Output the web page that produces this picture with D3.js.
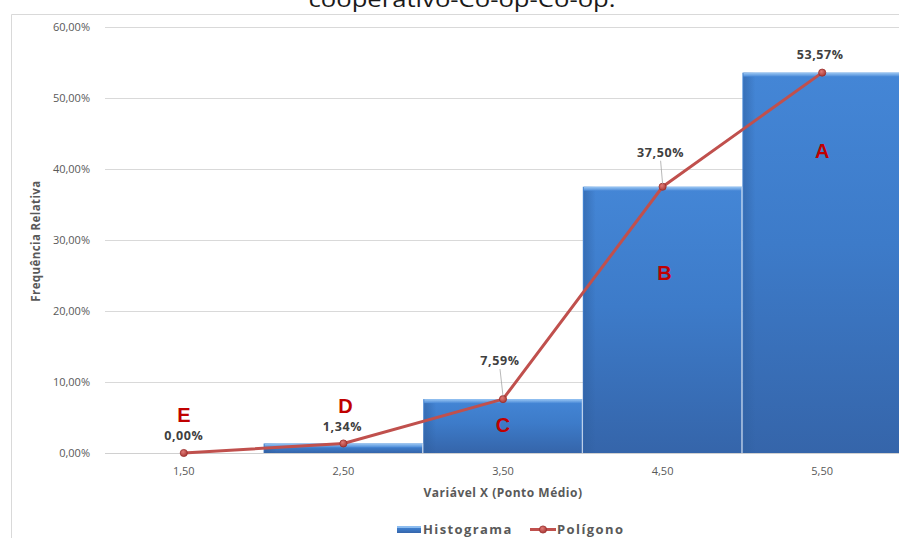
<!DOCTYPE html>
<html>
<head>
<meta charset="utf-8">
<script src="https://cdn.jsdelivr.net/npm/d3@7/dist/d3.min.js"></script>
<style>
  html, body { margin: 0; padding: 0; background: #ffffff; }
  svg { display: block; }
</style>
</head>
<body>
<svg id="chart" width="899" height="538"></svg>
<script>
// Class midpoints (x) and relative frequencies (y)
const categories = ["1,50", "2,50", "3,50", "4,50", "5,50"];
const frequencies = [0.0000, 0.0134, 0.0759, 0.3750, 0.5357];
const valueLabels = ["0,00%", "1,34%", "7,59%", "37,50%", "53,57%"];
const pointLetters = ["E", "D", "C", "B", "A"];
const yTicks = [0, 0.1, 0.2, 0.3, 0.4, 0.5, 0.6];
const yTickLabels = ["0,00%", "10,00%", "20,00%", "30,00%", "40,00%", "50,00%", "60,00%"];
const titleText = "cooperativo-Co-op-Co-op.";
const xTitle = "Variável X (Ponto Médio)";
const yTitle = "Frequência Relativa";
const seriesNames = ["Histograma", "Polígono"];

const svg = d3.select("#chart");
const W = 899, H = 538;
const plot = { left: 104, right: 902, top: 27, bottom: 453 };

const x = d3.scaleBand().domain(categories).range([plot.left, plot.right]).padding(0);
const y = d3.scaleLinear().domain([0, 0.6]).range([plot.bottom, plot.top]);

const font = "'Open Sans', 'Noto Sans', sans-serif";
const lineColor = "#c0504d";

// ---- gradients for the bevelled histogram bars ----
const defs = svg.append("defs");
const gBody = defs.append("linearGradient").attr("id", "barBody")
  .attr("x1", 0).attr("y1", 0).attr("x2", 0).attr("y2", 1);
gBody.append("stop").attr("offset", "0%").attr("stop-color", "#4486d6");
gBody.append("stop").attr("offset", "45%").attr("stop-color", "#3d7bc9");
gBody.append("stop").attr("offset", "100%").attr("stop-color", "#3565aa");

const gTop = defs.append("linearGradient").attr("id", "barTop")
  .attr("x1", 0).attr("y1", 0).attr("x2", 0).attr("y2", 1);
gTop.append("stop").attr("offset", "0%").attr("stop-color", "#9cc8f4");
gTop.append("stop").attr("offset", "100%").attr("stop-color", "#4a8ad8");

const gSide = defs.append("linearGradient").attr("id", "barSide")
  .attr("x1", 0).attr("y1", 0).attr("x2", 1).attr("y2", 0);
gSide.append("stop").attr("offset", "0%").attr("stop-color", "#2f5f9f").attr("stop-opacity", 0.55);
gSide.append("stop").attr("offset", "100%").attr("stop-color", "#2f5f9f").attr("stop-opacity", 0);

const gMarker = defs.append("radialGradient").attr("id", "markerFill")
  .attr("cx", "40%").attr("cy", "35%").attr("r", "65%");
gMarker.append("stop").attr("offset", "0%").attr("stop-color", "#e07a76");
gMarker.append("stop").attr("offset", "100%").attr("stop-color", "#a93a37");

// ---- title (top line of a wrapped heading, clipped at the page top) ----
svg.append("text")
  .attr("x", 462).attr("y", 7)
  .attr("text-anchor", "middle")
  .attr("font-family", font).attr("font-size", 22)
  .attr("fill", "#1a1a1a")
  .attr("textLength", 307).attr("lengthAdjust", "spacingAndGlyphs")
  .text(titleText);

// ---- chart frame ----
svg.append("path")
  .attr("d", `M11.5,${H} V14.5 H${W}`)
  .attr("fill", "none").attr("stroke", "#d9d9d9").attr("stroke-width", 1);

// ---- gridlines ----
svg.append("g").selectAll("line")
  .data(yTicks.slice(1))
  .join("line")
  .attr("x1", plot.left + 1).attr("x2", W)
  .attr("y1", d => Math.round(y(d)) + 0.5).attr("y2", d => Math.round(y(d)) + 0.5)
  .attr("stroke", "#d9d9d9").attr("stroke-width", 1);

// ---- y tick labels ----
svg.append("g").selectAll("text")
  .data(yTicks)
  .join("text")
  .attr("x", 90).attr("y", d => y(d) + 4)
  .attr("text-anchor", "end")
  .attr("font-family", font).attr("font-size", 11)
  .attr("fill", "#595959")
  .text((d, i) => yTickLabels[i]);

// ---- histogram bars ----
const bw = x.bandwidth();
const bars = svg.append("g");
const barData = frequencies.map((v, i) => ({ c: categories[i], v })).filter(d => d.v > 0);

bars.selectAll("rect.body")
  .data(barData)
  .join("rect")
  .attr("class", "body")
  .attr("x", d => x(d.c)).attr("y", d => y(d.v))
  .attr("width", bw).attr("height", d => y(0) - y(d.v))
  .attr("fill", "url(#barBody)");

bars.selectAll("rect.side")
  .data(barData)
  .join("rect")
  .attr("class", "side")
  .attr("x", d => x(d.c) + 1).attr("y", d => y(d.v))
  .attr("width", 12).attr("height", d => y(0) - y(d.v))
  .attr("fill", "url(#barSide)");

bars.selectAll("rect.top")
  .data(barData)
  .join("rect")
  .attr("class", "top")
  .attr("x", d => x(d.c) + 1).attr("y", d => y(d.v))
  .attr("width", bw - 2).attr("height", d => Math.min(4, y(0) - y(d.v)))
  .attr("fill", "url(#barTop)");

// thin light separators between adjacent bars
bars.selectAll("line.sep")
  .data(barData)
  .join("line")
  .attr("class", "sep")
  .attr("x1", d => x(d.c) + bw - 0.5).attr("x2", d => x(d.c) + bw - 0.5)
  .attr("y1", d => y(d.v)).attr("y2", y(0))
  .attr("stroke", "#d6e3f3").attr("stroke-width", 1);

// ---- baseline ----
svg.append("line")
  .attr("x1", plot.left + 1).attr("x2", W)
  .attr("y1", Math.round(y(0)) + 0.5).attr("y2", Math.round(y(0)) + 0.5)
  .attr("stroke", "#d0d0d0").attr("stroke-width", 1);

// ---- x tick labels ----
svg.append("g").selectAll("text")
  .data(categories)
  .join("text")
  .attr("x", d => x(d) + bw / 2).attr("y", 475)
  .attr("text-anchor", "middle")
  .attr("font-family", font).attr("font-size", 11)
  .attr("fill", "#595959")
  .text(d => d);

// ---- frequency polygon ----
const pts = frequencies.map((v, i) => [x(categories[i]) + bw / 2, y(v)]);
svg.append("path")
  .attr("d", d3.line().curve(d3.curveLinear)(pts))
  .attr("fill", "none").attr("stroke", lineColor)
  .attr("stroke-width", 3).attr("stroke-linejoin", "round").attr("stroke-linecap", "round");

svg.append("g").selectAll("circle")
  .data(pts)
  .join("circle")
  .attr("cx", d => d[0]).attr("cy", d => d[1]).attr("r", 3.6)
  .attr("fill", "url(#markerFill)").attr("stroke", "#9a2f2c").attr("stroke-width", 0.8);

// ---- value labels (two of them lifted with leader lines) ----
const labelLift = [13, 12, 34, 30, 14];
const leader = [false, false, true, true, false];
const labelNudge = [0, -1, -3, -2, -2];

svg.append("g").selectAll("line")
  .data(pts.map((p, i) => ({ p, i })).filter(d => leader[d.i]))
  .join("line")
  .attr("x1", d => d.p[0] + labelNudge[d.i]).attr("y1", d => d.p[1] - labelLift[d.i] + 4)
  .attr("x2", d => d.p[0]).attr("y2", d => d.p[1] - 3)
  .attr("stroke", "#a6a6a6").attr("stroke-width", 0.8);

svg.append("g").selectAll("text")
  .data(pts)
  .join("text")
  .attr("x", (d, i) => d[0] + labelNudge[i])
  .attr("y", (d, i) => d[1] - labelLift[i])
  .attr("text-anchor", "middle")
  .attr("font-family", font).attr("font-size", 12.5).attr("font-weight", 700)
  .attr("letter-spacing", 0.6)
  .attr("fill", "#404040")
  .text((d, i) => valueLabels[i]);

// ---- point letters ----
const letterShift = [-31, -30, 33, 93, 85];
svg.append("g").selectAll("text")
  .data(pts)
  .join("text")
  .attr("x", (d, i) => d[0] + (i === 3 ? 2 : i === 1 ? 2 : 0))
  .attr("y", (d, i) => d[1] + letterShift[i])
  .attr("text-anchor", "middle")
  .attr("font-family", "'Liberation Sans', Arial, sans-serif")
  .attr("font-size", 20).attr("font-weight", 700)
  .attr("fill", "#c00000")
  .text((d, i) => pointLetters[i]);

// ---- axis titles ----
svg.append("text")
  .attr("x", 503).attr("y", 497)
  .attr("text-anchor", "middle")
  .attr("font-family", font).attr("font-size", 12).attr("font-weight", 700)
  .attr("letter-spacing", 0.5)
  .attr("fill", "#595959")
  .text(xTitle);

svg.append("text")
  .attr("transform", "translate(40,241) rotate(-90)")
  .attr("text-anchor", "middle")
  .attr("font-family", font).attr("font-size", 11.5).attr("font-weight", 700)
  .attr("letter-spacing", 0.4)
  .attr("fill", "#595959")
  .text(yTitle);

// ---- legend ----
const legend = svg.append("g");
legend.append("rect")
  .attr("x", 397).attr("y", 526).attr("width", 24).attr("height", 7)
  .attr("fill", "url(#barBody)");
legend.append("rect")
  .attr("x", 397).attr("y", 526).attr("width", 24).attr("height", 2)
  .attr("fill", "#8dbdf0");
legend.append("text")
  .attr("x", 423).attr("y", 534)
  .attr("font-family", font).attr("font-size", 13).attr("font-weight", 700)
  .attr("letter-spacing", 1.4)
  .attr("fill", "#595959")
  .text(seriesNames[0]);
legend.append("line")
  .attr("x1", 530).attr("x2", 556).attr("y1", 529.5).attr("y2", 529.5)
  .attr("stroke", lineColor).attr("stroke-width", 3);
legend.append("circle")
  .attr("cx", 543).attr("cy", 529.5).attr("r", 3.6)
  .attr("fill", "url(#markerFill)").attr("stroke", "#9a2f2c").attr("stroke-width", 0.8);
legend.append("text")
  .attr("x", 557).attr("y", 534)
  .attr("font-family", font).attr("font-size", 13).attr("font-weight", 700)
  .attr("letter-spacing", 1.4)
  .attr("fill", "#595959")
  .text(seriesNames[1]);
</script>
</body>
</html>
